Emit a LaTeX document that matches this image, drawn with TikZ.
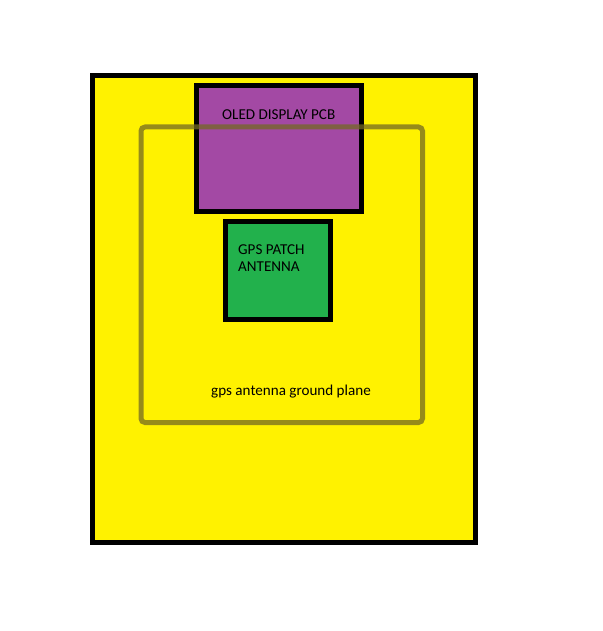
\documentclass[tikz,border=0pt]{standalone}
\usepackage{fontspec}
\setmainfont{Carlito}
\definecolor{pyellow}{RGB}{255,242,0}
\definecolor{ppurple}{RGB}{163,73,164}
\definecolor{pgreen}{RGB}{34,177,76}
\definecolor{pgrey}{RGB}{115,105,35}
\tikzset{
  board/.style={draw=black, line width=5pt},
  gplane/.style={draw=pgrey, draw opacity=0.75, line width=5pt, rounded corners=4pt},
  lbl/.style={font=\fontsize{15.1}{17}\selectfont, text=black, inner sep=0pt, anchor=base west, align=left}
}
\begin{document}
\begin{tikzpicture}[x=1pt,y=-1pt]
\useasboundingbox (0,0) rectangle (602,631);
\fill[white] (0,0) rectangle (602,631);
% outer board
\draw[board, fill=pyellow] (92.5,75.5) rectangle (475.5,542.5);
% OLED display
\draw[board, fill=ppurple] (196.5,85.5) rectangle (361.5,211.5);
% ground plane outline
\draw[gplane] (141,127) rectangle (422.5,422.5);
% GPS patch
\draw[board, fill=pgreen] (225.5,221.5) rectangle (330.5,319.5);
% labels
\node[lbl] (oled) at (222,120) {OLED DISPLAY PCB};
\node[lbl] (gps) at (238,271) {GPS PATCH\\ANTENNA};
\node[lbl] (gnd) at (211,395) {gps antenna ground plane};
\end{tikzpicture}
\end{document}
